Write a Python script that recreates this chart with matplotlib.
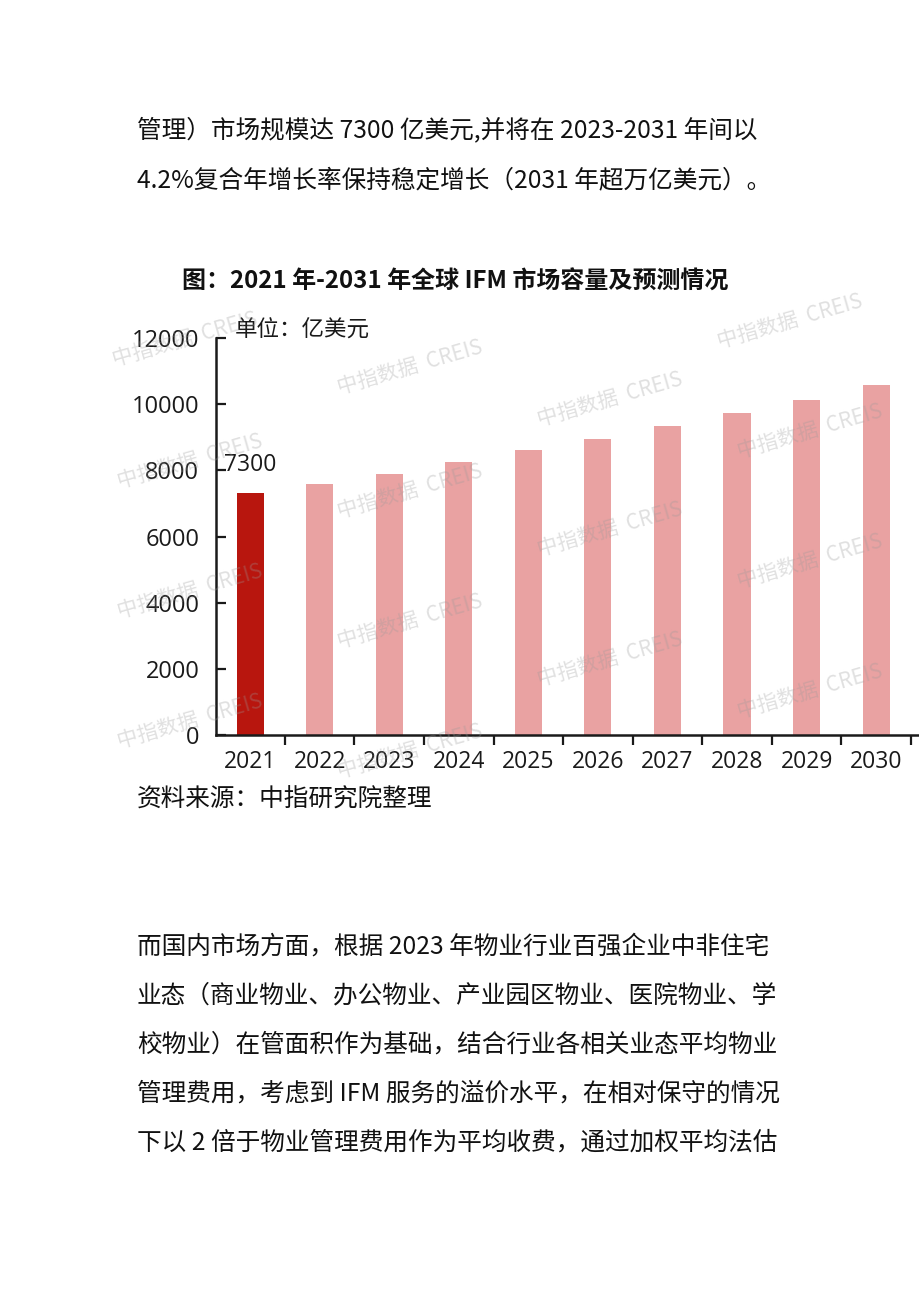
import matplotlib
matplotlib.use("Agg")
import matplotlib.pyplot as plt

W_PX = 920
H_PX = 1301
DPI = 100

CJK = ['Noto Sans CJK SC', 'DejaVu Sans']
NUM = ['Open Sans', 'Noto Sans CJK SC', 'DejaVu Sans']

years = ['2021', '2022', '2023', '2024', '2025', '2026', '2027', '2028', '2029', '2030']
market_size = [7300, 7580, 7900, 8240, 8600, 8950, 9340, 9720, 10120, 10570]
bar_labels = ['7300', '', '', '', '', '', '', '', '', '']
y_ticks = [0, 2000, 4000, 6000, 8000, 10000, 12000]

title = '图：2021 年-2031 年全球 IFM 市场容量及预测情况'
unit_text = '单位：亿美元'
source_text = '资料来源：中指研究院整理'
para_top = ['管理）市场规模达 7300 亿美元,并将在 2023-2031 年间以',
            '4.2%复合年增长率保持稳定增长（2031 年超万亿美元）。']
para_bottom = ['而国内市场方面，根据 2023 年物业行业百强企业中非住宅',
               '业态（商业物业、办公物业、产业园区物业、医院物业、学',
               '校物业）在管面积作为基础，结合行业各相关业态平均物业',
               '管理费用，考虑到 IFM 服务的溢价水平，在相对保守的情况',
               '下以 2 倍于物业管理费用作为平均收费，通过加权平均法估']

# watermark positions (pixels) - decoration only
wm_x = [185, 410, 610, 810, 190, 410, 610, 810, 190, 410, 610, 810, 190, 410, 790]
wm_y = [340, 368, 400, 432, 462, 492, 530, 562, 592, 622, 660, 692, 722, 752, 322]

DARK_RED = '#B8160E'
PINK = '#E9A2A2'
INK = '#1a1a1a'


def px(x, y):
    return x / W_PX, 1 - y / H_PX


fig = plt.figure(figsize=(W_PX / DPI, H_PX / DPI), dpi=DPI)
fig.patch.set_facecolor('white')

ax_left, ax_right = 216, 920
ax_top, ax_bottom = 338, 735
ax = fig.add_axes([ax_left / W_PX, 1 - ax_bottom / H_PX,
                   (ax_right - ax_left) / W_PX, (ax_bottom - ax_top) / H_PX])

x = list(range(len(years)))
colors = [DARK_RED] + [PINK] * (len(years) - 1)
bars = ax.bar(x, market_size, width=0.39, color=colors, zorder=2)
ax.bar_label(bars, labels=bar_labels, padding=12, fontsize=16.5, family=NUM, color=INK)

ax.set_xlim(-0.49, 9.63)
ax.set_ylim(0, 12000)
ax.set_yticks(y_ticks)
ax.set_yticklabels([str(v) for v in y_ticks], family=NUM, fontsize=17, color=INK)
ax.set_xticks(x)
ax.set_xticklabels(years, family=NUM, fontsize=16.5, color=INK)
ax.set_xticks([i + 0.5 for i in x], minor=True)

ax.tick_params(axis='y', direction='in', length=7, width=1.6, color=INK, pad=12)
ax.tick_params(axis='x', which='major', length=0, pad=11)
ax.tick_params(axis='x', which='minor', direction='out', length=7, width=1.6, color=INK)

for side in ['top', 'right']:
    ax.spines[side].set_visible(False)
for side in ['left', 'bottom']:
    ax.spines[side].set_linewidth(1.8)
    ax.spines[side].set_color(INK)

# texts around the chart
fig.text(*px(455, 282), title, family=CJK, fontsize=17.3, fontweight='bold',
         ha='center', va='center', color='#111111')
fig.text(*px(235, 330), unit_text, family=CJK, fontsize=16.2, ha='left', va='center', color=INK)

for i, line in enumerate(para_top):
    fig.text(*px(137, 130 + 50 * i), line, family=CJK, fontsize=17.75,
             ha='left', va='center', color='#111111')
fig.text(*px(137, 800), source_text, family=CJK, fontsize=17.75,
         ha='left', va='center', color='#111111')
for i, line in enumerate(para_bottom):
    fig.text(*px(137, 947 + 48.8 * i), line, family=CJK, fontsize=17.75,
             ha='left', va='center', color='#111111')

# faint watermarks
for wx, wy in zip(wm_x, wm_y):
    fig.text(*px(wx, wy), '中指数据  CREIS', family=CJK, fontsize=15, rotation=16,
             ha='center', va='center', color='#9a9a9a', alpha=0.3, zorder=5)

fig.savefig('out.png', dpi=DPI)
